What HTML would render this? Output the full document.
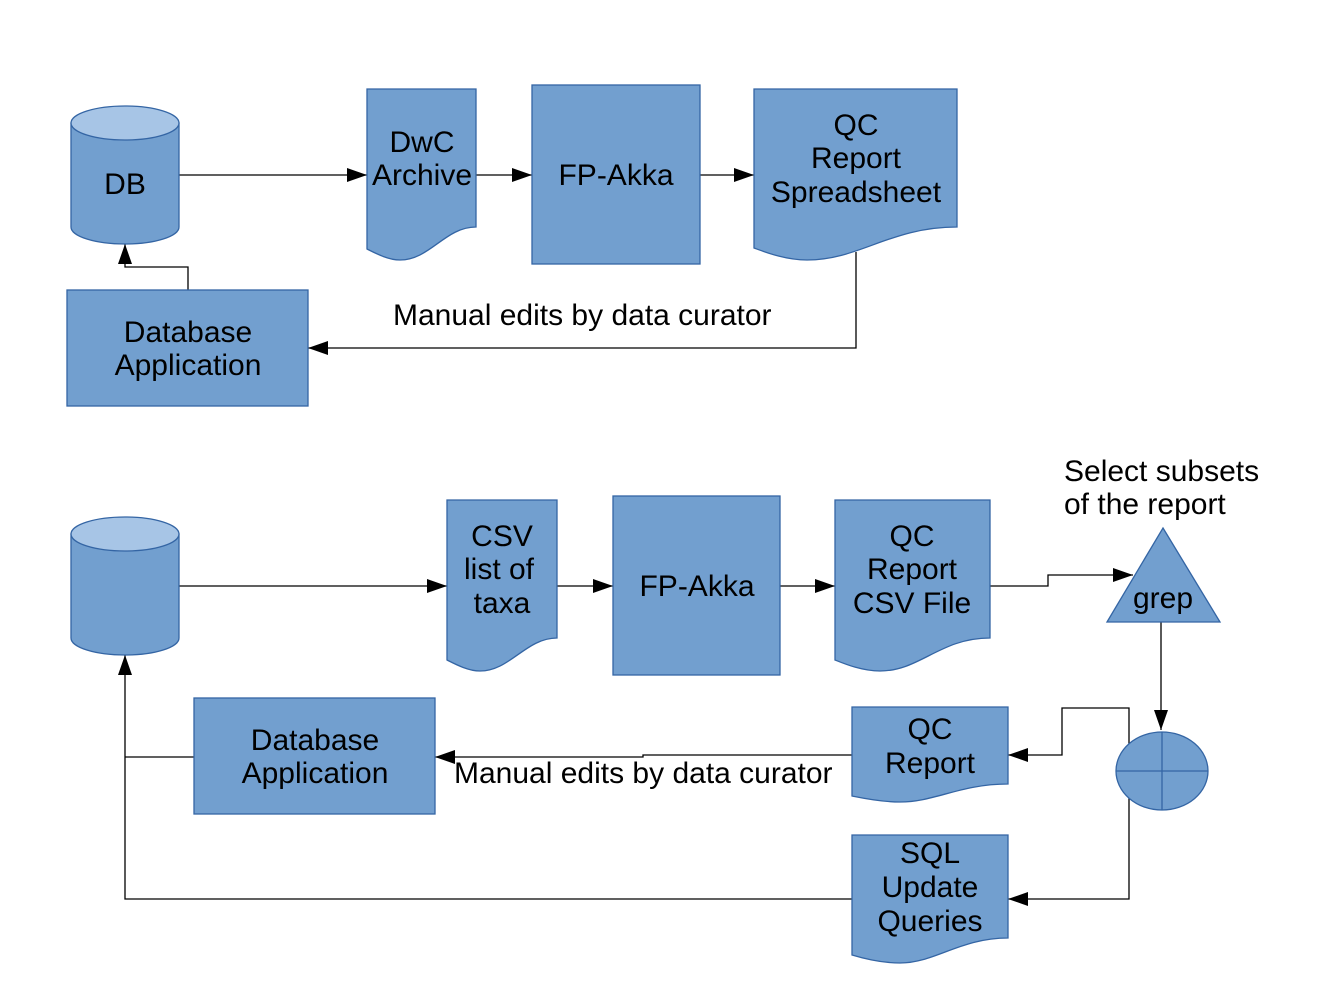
<!DOCTYPE html>
<html><head><meta charset="utf-8"><style>
html,body{margin:0;padding:0;background:#fff;}
svg{display:block;}
text{font-family:"Liberation Sans",sans-serif;font-size:30px;fill:#000;}
</style></head><body>
<svg width="1323" height="992" viewBox="0 0 1323 992" xmlns="http://www.w3.org/2000/svg">
<defs>
<marker id="a" markerWidth="20" markerHeight="14" refX="20" refY="7" orient="auto" markerUnits="userSpaceOnUse">
<path d="M0,0 L20,7 L0,14 Z" fill="#000"/>
</marker>
</defs>
<g fill="none" stroke="#000" stroke-width="1.3">
<path d="M179,175 H367" marker-end="url(#a)"/>
<path d="M476,175 H532" marker-end="url(#a)"/>
<path d="M700,175 H754" marker-end="url(#a)"/>
<path d="M856,252 V348 H308" marker-end="url(#a)"/>
<path d="M188,290 V267 H125 V244" marker-end="url(#a)"/>
<path d="M179,586 H447" marker-end="url(#a)"/>
<path d="M557,586 H613" marker-end="url(#a)"/>
<path d="M780,586 H835" marker-end="url(#a)"/>
<path d="M990,586 H1048 V575 H1133" marker-end="url(#a)"/>
<path d="M1161,622 V730" marker-end="url(#a)"/>
<path d="M1129,771 V708 H1062 V755 H1008" marker-end="url(#a)"/>
<path d="M1129,771 V899 H1008" marker-end="url(#a)"/>
<path d="M852,755 H643 V757 H435" marker-end="url(#a)"/>
<path d="M852,899 H125 V655" marker-end="url(#a)"/>
<path d="M194,757 H125"/>
</g>
<g fill="#729fcf" stroke="#3465a4" stroke-width="1.3">
<path d="M71,123 V227 A54,17 0 0 0 179,227 V123 Z"/>
<ellipse cx="125" cy="123" rx="54" ry="17" fill="#a7c5e6"/>
<path d="M367,89 H476 V227 C445,227 430,260 400,260 C388,260 375,253 367,249 Z"/>
<rect x="532" y="85" width="168" height="179"/>
<path d="M754,89 H957 V227 C890,227 860,260 807,260 C785,260 765,252 754,248 Z"/>
<rect x="67" y="290" width="241" height="116"/>
<path d="M71,534 V638 A54,17 0 0 0 179,638 V534 Z"/>
<ellipse cx="125" cy="534" rx="54" ry="17" fill="#a7c5e6"/>
<path d="M447,500 H557 V638 C526,638 510,671 480,671 C468,671 455,664 447,660 Z"/>
<rect x="613" y="496" width="167" height="179"/>
<path d="M835,500 H990 V638 C940,638 920,671 880,671 C862,671 845,664 835,660 Z"/>
<path d="M1163,528 L1220,622 H1107 Z"/>
<ellipse cx="1162" cy="771" rx="46" ry="39"/>
<path d="M852,707 H1008 V784 C960,784 935,802 900,802 C880,802 862,798 852,796 Z"/>
<path d="M852,835 H1008 V938 C960,938 935,963 900,963 C880,963 862,958 852,955 Z"/>
<rect x="194" y="698" width="241" height="116"/>
</g>
<g stroke="#3465a4" stroke-width="1.3">
<line x1="1116" y1="771" x2="1208" y2="771"/>
<line x1="1162" y1="732" x2="1162" y2="810"/>
</g>
<g text-anchor="middle">
<text x="125" y="194">DB</text>
<text x="422" y="152">DwC</text>
<text x="422" y="185">Archive</text>
<text x="616" y="185">FP-Akka</text>
<text x="856" y="135">QC</text>
<text x="856" y="168">Report</text>
<text x="856" y="202">Spreadsheet</text>
<text x="188" y="342">Database</text>
<text x="188" y="375">Application</text>
<text x="502" y="546">CSV</text>
<text x="499" y="579">list of</text>
<text x="502" y="613">taxa</text>
<text x="697" y="596">FP-Akka</text>
<text x="912" y="546">QC</text>
<text x="912" y="579">Report</text>
<text x="912" y="613">CSV File</text>
<text x="1163" y="608">grep</text>
<text x="930" y="739">QC</text>
<text x="930" y="773">Report</text>
<text x="930" y="863">SQL</text>
<text x="930" y="897">Update</text>
<text x="930" y="931">Queries</text>
<text x="315" y="750">Database</text>
<text x="315" y="783">Application</text>
</g>
<text x="393" y="325">Manual edits by data curator</text>
<text x="454" y="783">Manual edits by data curator</text>
<text x="1064" y="481">Select subsets</text>
<text x="1064" y="514">of the report</text>
</svg>
</body></html>
